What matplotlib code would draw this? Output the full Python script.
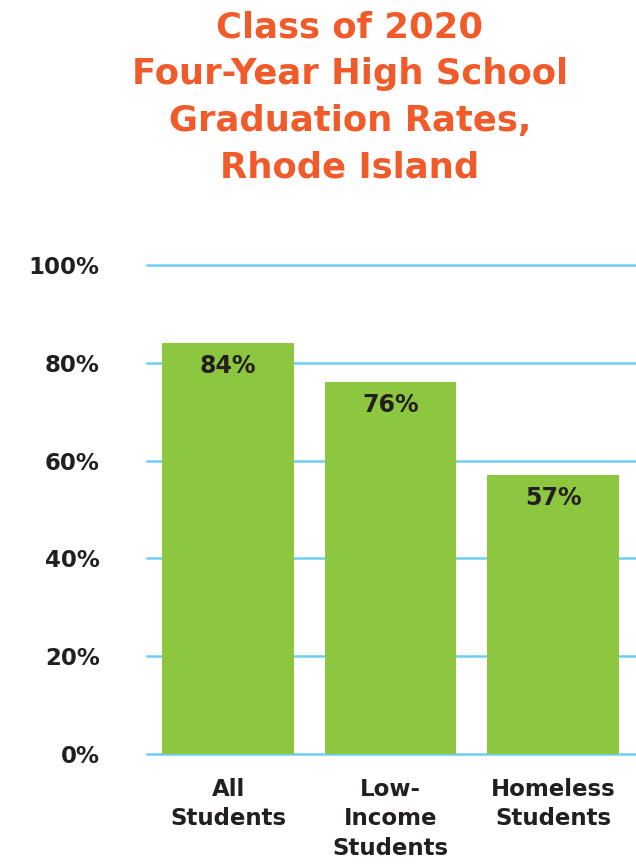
import matplotlib
matplotlib.use("Agg")
import matplotlib.pyplot as plt

categories = ["All\nStudents", "Low-\nIncome\nStudents", "Homeless\nStudents"]
rates = [84, 76, 57]
rate_labels = ["84%", "76%", "57%"]
yticks = [0, 20, 40, 60, 80, 100]
ytick_labels = ["0%", "20%", "40%", "60%", "80%", "100%"]
title_lines = ["Class of 2020", "Four-Year High School", "Graduation Rates,", "Rhode Island"]

bar_color = "#8dc63f"
grid_color = "#6dcff6"
text_color = "#231f20"
title_color = "#f15a29"

plt.rcParams["font.family"] = ["DejaVu Sans"]

fig = plt.figure(figsize=(6.36, 8.64), dpi=100)
ax = fig.add_axes([147 / 636, 1 - 754 / 864, 1 - 147 / 636, (754 - 265) / 864])

x = list(range(len(categories)))
ax.bar(x, rates, width=0.81, color=bar_color, zorder=3)

for v in yticks:
    ax.axhline(v, color=grid_color, lw=1.8, zorder=1, clip_on=False)

ax.set_xlim(-0.5, 2.51)
ax.set_ylim(0, 100)

for xi, v, lab in zip(x, rates, rate_labels):
    ax.annotate(lab, (xi, v), xytext=(0, -23), textcoords="offset pixels",
                ha="center", va="center", fontsize=17, fontweight="bold",
                color=text_color, zorder=4)

ax.set_yticks(yticks)
ax.set_yticklabels(ytick_labels, fontsize=16.5, fontweight="bold", color=text_color)
ax.set_xticks(x)
ax.set_xticklabels(categories, fontsize=16.5, fontweight="bold", color=text_color,
                   linespacing=1.38, va="top")
ax.tick_params(axis="y", length=0, pad=34)
ax.tick_params(axis="x", length=0, pad=17)
for s in ax.spines.values():
    s.set_visible(False)

for i, line in enumerate(title_lines):
    fig.text(350 / 636, 1 - (27 + i * 47) / 864, line, ha="center", va="center",
             fontsize=25.5, fontweight="bold", color=title_color)

fig.savefig("out.png", dpi=100)
